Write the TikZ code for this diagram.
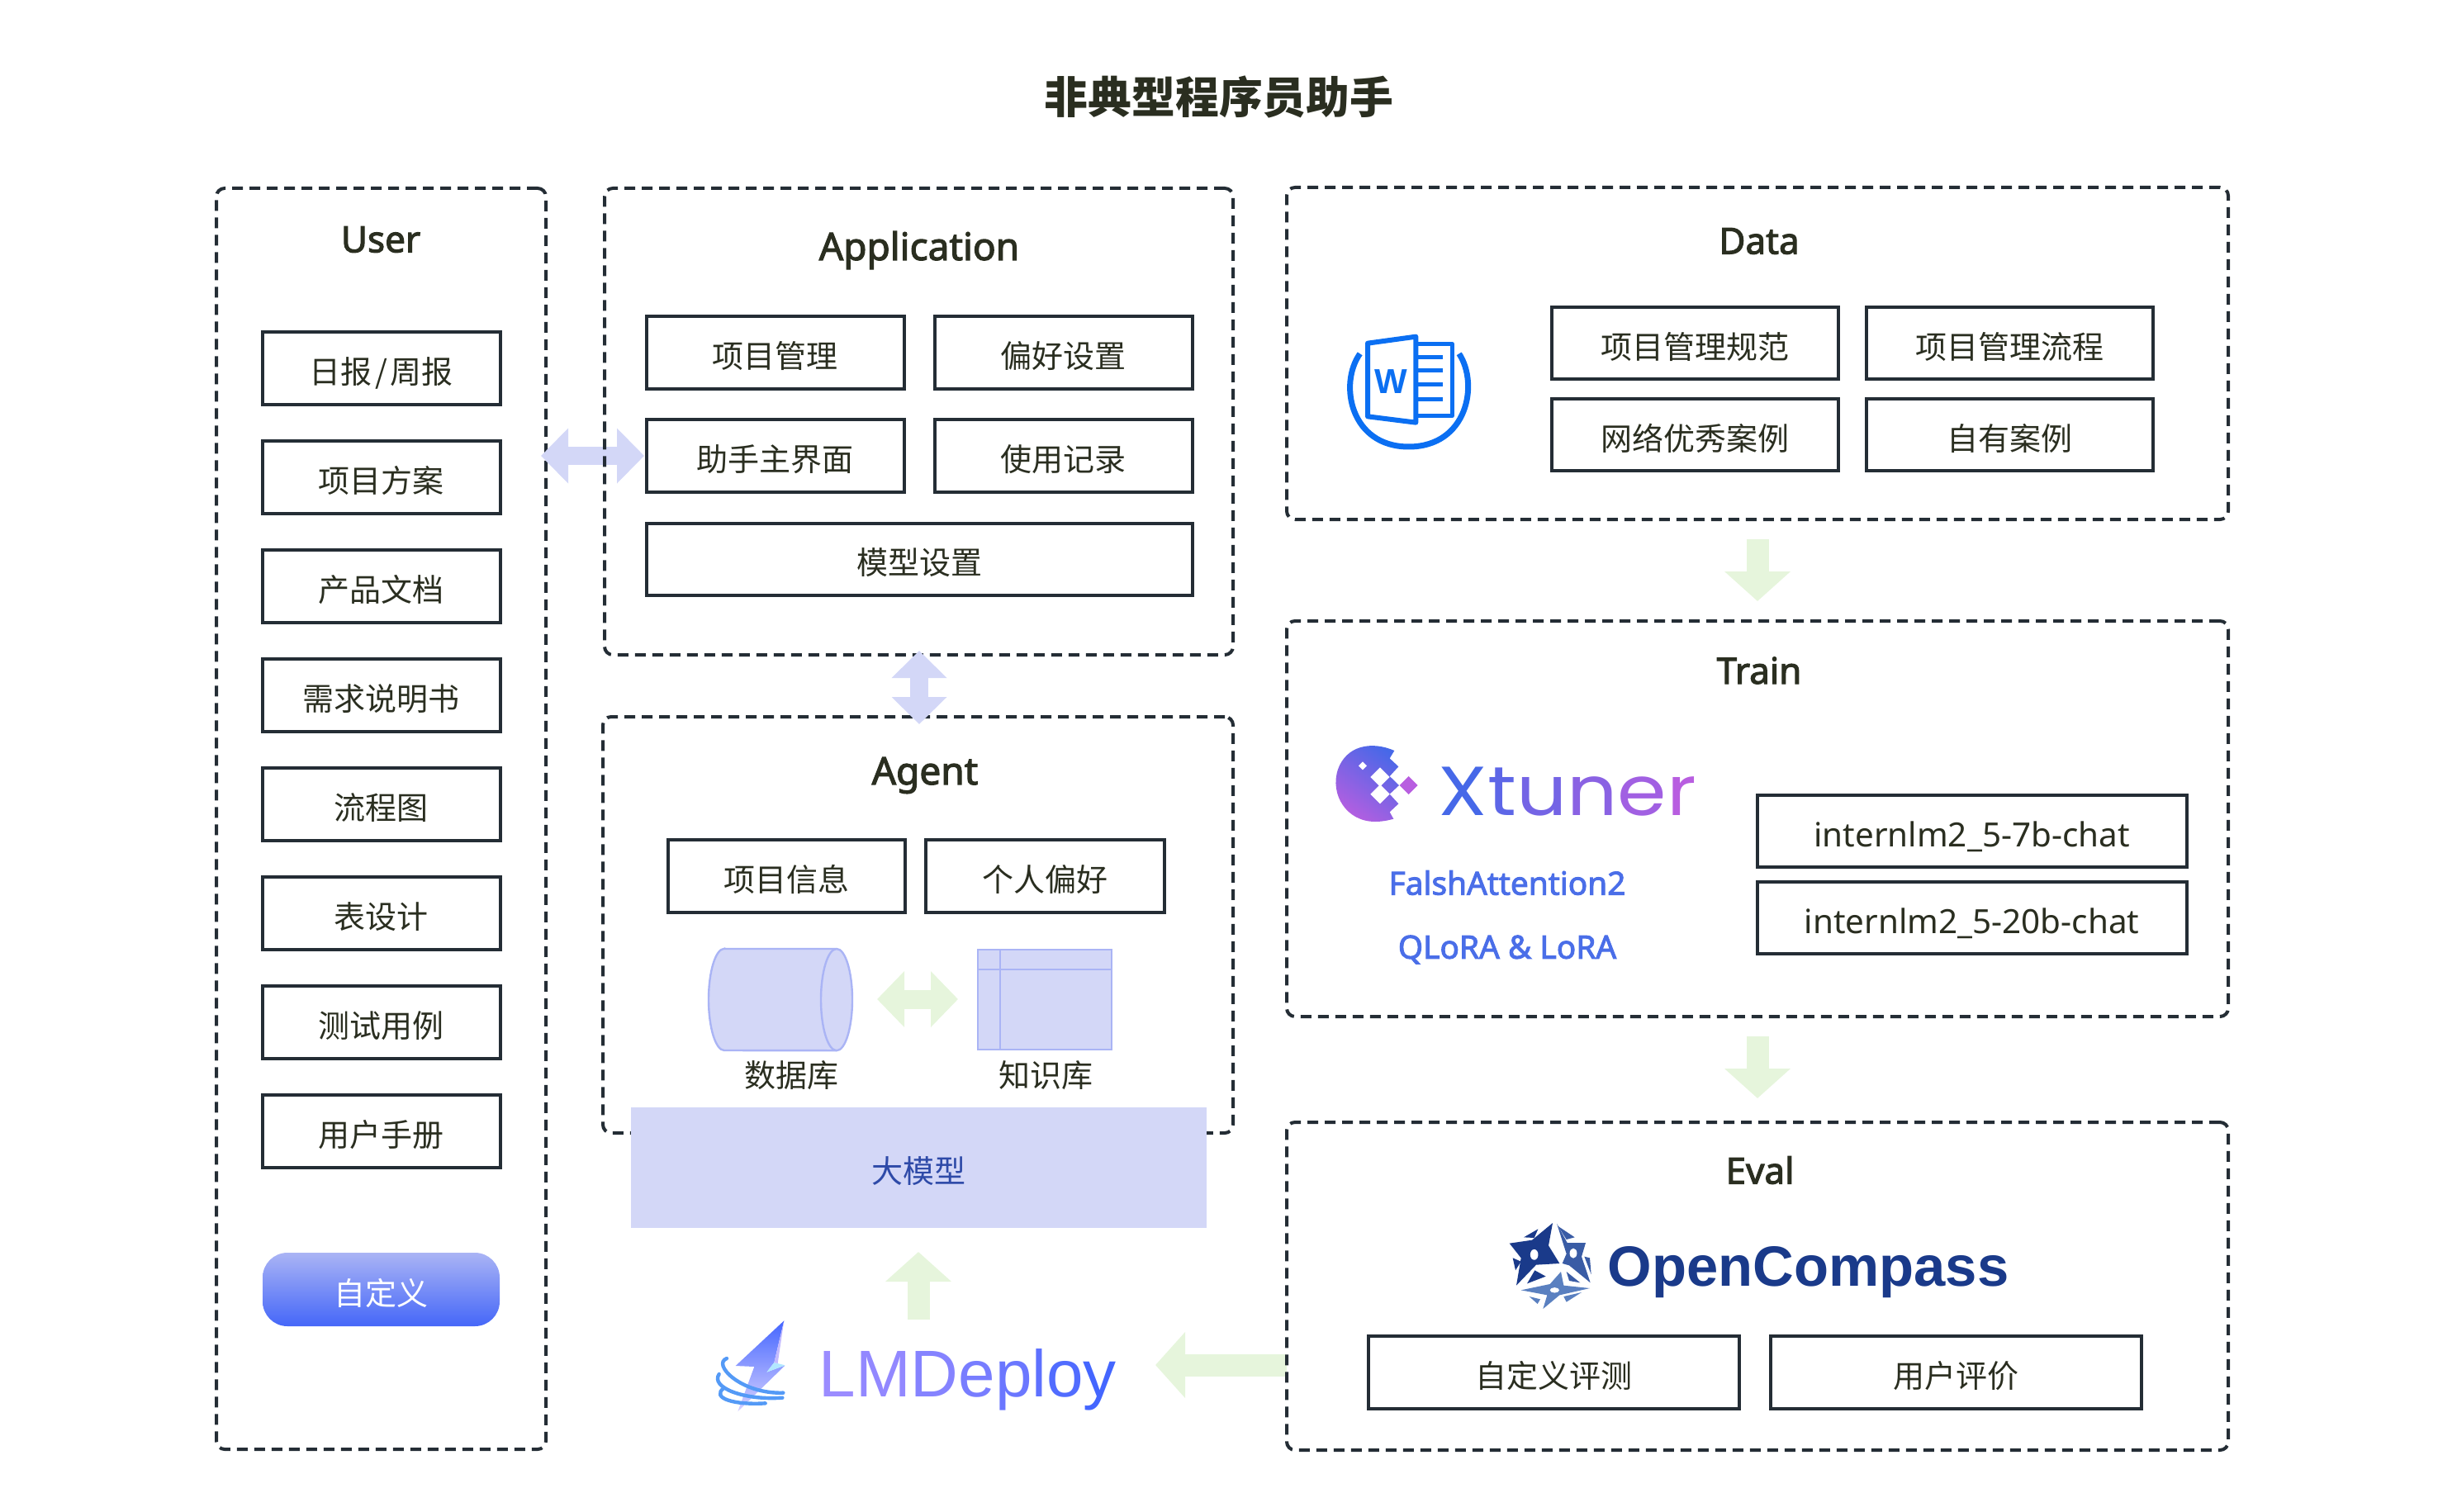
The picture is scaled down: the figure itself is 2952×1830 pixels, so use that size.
\documentclass[tikz,border=0pt]{standalone}
\usepackage{fontspec}
\setmainfont{Noto Sans}
\newfontfamily\cjk{Noto Sans CJK SC}
\newfontfamily\headfont{Noto Sans}[FakeBold=2.5]
\newfontfamily\logofont{Liberation Sans}
\newfontfamily\tunerfont{Poppins}
\usetikzlibrary{matrix,arrows.meta}
\definecolor{inkcol}{HTML}{2A2E20}
\definecolor{linecol}{HTML}{242D35}
\definecolor{lavcol}{HTML}{D3D7F7}
\definecolor{lavline}{HTML}{AAB4F5}
\definecolor{greencol}{HTML}{E6F5DC}
\definecolor{bluetext}{HTML}{4A6EE8}
\definecolor{modeltext}{HTML}{2E4AA8}
\definecolor{wordblue}{HTML}{0B6FF2}
\definecolor{tunerA}{HTML}{4668E8}
\definecolor{tunerB}{HTML}{B85EE0}
\definecolor{deployA}{HTML}{9B8CFF}
\definecolor{deployB}{HTML}{4466FF}
\definecolor{compA}{HTML}{1A3A8A}
\definecolor{compB}{HTML}{3A5CA5}
\definecolor{compC}{HTML}{5A80C0}
\tikzset{
	wh/.style 2 args={minimum width=#1*.25pt,minimum height=#2*.25pt},
	lowtext/.style={text height=10.9pt,text depth=1.5pt},
	groupbox/.style={draw=linecol,line width=1pt,dash pattern=on 3.25pt off 2pt,rounded corners=2.5pt,inner sep=0pt,outer sep=0pt},
	itembox/.style={draw=linecol,line width=1pt,inner sep=0pt,outer sep=0pt,lowtext,text=inkcol,font=\cjk\fontsize{9.5pt}{11pt}\selectfont},
	headtext/.style={text=inkcol,inner sep=0pt,font=\headfont\fontsize{11pt}{13pt}\selectfont},
	bigheadtext/.style={text=inkcol,inner sep=0pt,font=\headfont\fontsize{11.5pt}{13pt}\selectfont},
	plaintext/.style={text=inkcol,inner sep=0pt,font=\cjk\fontsize{9.5pt}{11pt}\selectfont},
	methodtext/.style={text=bluetext,inner sep=0pt,font=\headfont\fontsize{9.7pt}{11pt}\selectfont},
	greenarrow/.style={draw=greencol,line width=6.75pt,-{Triangle[length=9pt,width=19.5pt,fill=greencol]}},
	greenboth/.style={draw=greencol,line width=5.75pt,{Triangle[length=8.25pt,width=16.5pt,fill=greencol]}-{Triangle[length=8.25pt,width=16.5pt,fill=greencol]}},
	lavboth/.style={draw=lavcol,line width=5.5pt,{Triangle[length=8.25pt,width=16.25pt,fill=lavcol]}-{Triangle[length=8.25pt,width=16.25pt,fill=lavcol]}},
	dbshape/.style={draw=lavline,fill=lavcol,line width=.6pt},
	kbshape/.style={draw=lavline,fill=lavcol,line width=.6pt,inner sep=0pt,outer sep=0pt},
	pillbox/.style={rounded corners=7.5pt,top color=lavline,bottom color=deployB!70!tunerA,text=white,inner sep=0pt,lowtext,font=\cjk\fontsize{9.5pt}{11pt}\selectfont},
}
\begin{document}
\begin{tikzpicture}[x=.25pt,y=-.25pt]
	\path[use as bounding box] (0,0) rectangle (2952,1830);
	\node[inner sep=0pt,text=inkcol,font=\cjk\bfseries\fontsize{13.2pt}{15pt}\selectfont] (title) at (1476,117) {非典型程序员助手};

	% User
	\node[groupbox,wh={399}{1527}] (userBox) at (461.5,991.5) {};
	\node[headtext] (userHead) at (461,290) {User};
	\matrix (um) [matrix of nodes,row sep=10pt,nodes={itembox,wh={288}{88}}] at (461.5,908)
	{
		日报\kern1pt/\kern1pt周报 \\
		项目方案 \\
		产品文档 \\
		需求说明书 \\
		流程图 \\
		表设计 \\
		测试用例 \\
		用户手册 \\};
	\node[pillbox,wh={287}{89}] (pill) at (461.5,1561.5) {自定义};

	\coordinate (uaL) at (655,552);
	\coordinate (uaR) at (780,552);
	\path (uaL) edge[lavboth] (uaR);

	% Application
	\node[groupbox,wh={761}{565}] (appBox) at (1112.5,510.5) {};
	\node[bigheadtext] (appHead) at (1113,303) {Application};
	\matrix (am) [matrix of nodes,row sep=8.25pt,column sep=8.25pt,nodes={itembox,wh={312}{88}}] at (1113,489.5)
	{
		项目管理 & 偏好设置 \\
		助手主界面 & 使用记录 \\};
	\node[itembox,wh={661}{87}] (modelSet) at (1113,677) {模型设置};

	% Agent
	\node[groupbox,wh={763}{504}] (agentBox) at (1111.5,1120) {};
	\node[bigheadtext] (agentHead) at (1120,939) {Agent};
	\node[itembox,wh={287}{88}] (projInfo) at (952,1061) {项目信息};
	\node[itembox,wh={289}{88}] (prefInfo) at (1265,1061) {个人偏好};
	\draw[dbshape] (877,1149) -- (1013,1149) arc[start angle=90,end angle=-90,x radius=4.75pt,y radius=15.4pt] -- (877,1272) arc[start angle=270,end angle=90,x radius=4.75pt,y radius=15.4pt] -- cycle;
	\draw[dbshape] (1013,1149) arc[start angle=90,end angle=270,x radius=4.75pt,y radius=15.4pt];
	\node[kbshape,wh={162}{121}] (kb) at (1265,1210.5) {};
	\draw[lavline,line width=.6pt] (1211,1150) -- (1211,1271) (1184,1174) -- (1346,1174);
	\node[plaintext] (dbText) at (958,1302) {数据库};
	\node[plaintext] (kbText) at (1266,1302) {知识库};
	\coordinate (dkL) at (1062,1210);
	\coordinate (dkR) at (1160,1210);
	\path (dkL) edge[greenboth] (dkR);
	\node[fill=lavcol,inner sep=0pt,outer sep=0pt,wh={697}{146},lowtext,text=modeltext,font=\cjk\fontsize{9.5pt}{11pt}\selectfont] (bigModel) at (1112.5,1414) {大模型};

	\coordinate (aaT) at (1113,788);
	\coordinate (aaB) at (1113,877);
	\path (aaT) edge[lavboth] (aaB);

	% LMDeploy
	\begin{scope}[shift={(860,1590)},x=.08333pt,y=-.08333pt]
		\shade[top color=deployB,bottom color=deployA!40!white] (268,28) -- (92,192) -- (160,195) -- (100,358) -- (272,190) -- (205,215) -- (232,180) -- cycle;
		\fill[blue!30!cyan!30!white] (205,215) -- (232,180) -- (272,190) -- cycle;
		\fill[deployA!60!white] (268,28) -- (232,180) -- (245,183) -- cycle;
		\draw[wordblue!70!white,line width=1.1pt,line cap=round] (60,165) .. controls (5,185) and (110,295) .. (265,290);
		\draw[wordblue!70!white,line width=1.1pt,line cap=round] (32,222) .. controls (0,270) and (120,318) .. (262,308);
		\draw[wordblue!70!white,line width=1.1pt,line cap=round] (50,272) .. controls (0,310) and (90,335) .. (200,328);
	\end{scope}
	\node[anchor=base west,inner sep=0pt,font=\logofont\fontsize{20pt}{22pt}\selectfont] (deployText) at (991,1691) {{\color{deployA}L}{\color{deployA!90!deployB}M}{\color{deployA!75!deployB}D}{\color{deployA!60!deployB}e}{\color{deployA!45!deployB}p}{\color{deployA!30!deployB}l}{\color{deployA!15!deployB}o}{\color{deployB}y}};

	\coordinate (ldB) at (1112,1598);
	\coordinate (ldT) at (1112,1516);
	\path (ldB) edge[greenarrow] (ldT);
	\coordinate (evR) at (1558,1653);
	\coordinate (evL) at (1399,1653);
	\path (evR) edge[greenarrow] (evL);

	% Data
	\node[groupbox,wh={1140}{402}] (dataBox) at (2128,428) {};
	\node[headtext] (dataHead) at (2130,292) {Data};
	\begin{scope}[shift={(1625,395)},x=.08333pt,y=-.08333pt]
		\draw[wordblue,line width=1.75pt] (65,100) .. controls (-13,210) and (30,438) .. (242,438) .. controls (455,438) and (498,210) .. (425,100);
		\draw[wordblue,line width=1.4pt,line join=round] (268,65) -- (400,65) -- (400,325) -- (268,325);
		\draw[wordblue,line width=1.4pt] (268,112) -- (365,112) (268,160) -- (365,160) (268,212) -- (365,212) (268,265) -- (365,265);
		\draw[wordblue,line width=1.5pt,line join=round,fill=white] (93,62) -- (268,38) -- (268,350) -- (93,328) -- cycle;
	\end{scope}
	\node[inner sep=0pt,text=wordblue,font=\logofont\bfseries\fontsize{10.5pt}{12pt}\selectfont] (wordW) at (1684,462) {W};
	\matrix (dm) [matrix of nodes,row sep=5pt,column sep=7.5pt,nodes={itembox,wh={347}{87}}] at (2242.5,471)
	{
		项目管理规范 & 项目管理流程 \\
		网络优秀案例 & 自有案例 \\};

	\coordinate (dtT) at (2128,653);
	\coordinate (dtB) at (2128,728);
	\path (dtT) edge[greenarrow] (dtB);

	% Train
	\node[groupbox,wh={1140}{479}] (trainBox) at (2128,991.5) {};
	\node[headtext] (trainHead) at (2130,812) {Train};
	\begin{scope}[shift={(1610,895)},x=.08333pt,y=-.08333pt]
		\shade[left color=tunerA,right color=tunerB,shading angle=-35] (235,42) .. controls (150,5) and (60,25) .. (30,110) .. controls (0,200) and (60,300) .. (165,300) .. controls (190,300) and (215,295) .. (232,290) -- (218,265) -- (250,235) -- (218,200) -- (252,168) -- (218,135) -- (250,100) -- (218,70) -- cycle;
		\fill[tunerB] (287,135) -- (320,168) -- (287,201) -- (254,168) -- cycle;
		\fill[white] (183,103) -- (218,138) -- (183,173) -- (148,138) -- cycle;
		\fill[white] (183,165) -- (218,200) -- (183,235) -- (148,200) -- cycle;
		\fill[white] (120,82) -- (135,97) -- (120,112) -- (105,97) -- cycle;
	\end{scope}
	\node[anchor=base west,inner sep=0pt,xscale=1.14,font=\tunerfont\fontsize{21pt}{24pt}\selectfont] (tunerText) at (1741,987) {{\color{tunerA}X}{\color{tunerA!80!tunerB}t}{\color{tunerA!60!tunerB}u}{\color{tunerA!40!tunerB}n}{\color{tunerA!20!tunerB}e}{\color{tunerB}r}};
	\node[methodtext] (flashText) at (1825,1069) {FalshAttention2};
	\node[methodtext] (loraText) at (1825,1150) {QLoRA \& LoRA};
	\node[itembox,wh={520}{87},font=\fontsize{10.1pt}{12pt}\selectfont] (chat7b) at (2387.5,1006.5) {internlm2\_5-7b-chat};
	\node[itembox,wh={520}{87},font=\fontsize{10.1pt}{12pt}\selectfont] (chat20b) at (2387.5,1111.5) {internlm2\_5-20b-chat};

	\coordinate (teT) at (2128,1255);
	\coordinate (teB) at (2128,1330);
	\path (teT) edge[greenarrow] (teB);

	% Eval
	\node[groupbox,wh={1140}{397}] (evalBox) at (2128,1557.5) {};
	\node[headtext] (evalHead) at (2131,1417) {Eval};
	\begin{scope}[shift={(1825,1475)},x=.08333pt,y=-.08333pt]
		\fill[compA] (165,18) -- (150,100) -- (190,165) -- (105,170) -- (33,245) -- (50,145) -- (8,92) -- (90,80) -- cycle;
		\fill[compA] (60,70) -- (112,40) -- (98,72) -- cycle (20,145) -- (50,158) -- (30,190) -- cycle (100,190) -- (140,212) -- (72,238) -- cycle;
		\fill[white] (98,133) ellipse[x radius=1.2pt,y radius=1.6pt];
		\fill[compB] (180,20) -- (218,90) -- (285,90) -- (270,140) -- (302,235) -- (225,172) -- (200,165) -- (215,130) -- cycle;
		\fill[compB] (185,30) -- (245,70) -- (215,78) -- cycle (280,140) -- (300,145) -- (305,205) -- cycle (215,195) -- (265,235) -- (225,228) -- cycle;
		\fill[white] (240,128) ellipse[x radius=1.1pt,y radius=1.5pt];
		\fill[compC] (195,195) -- (205,245) -- (300,255) -- (190,280) -- (130,330) -- (145,280) -- (50,262) -- (155,240) -- cycle;
		\fill[compC] (80,285) -- (120,295) -- (110,312) -- cycle (205,285) -- (270,270) -- (215,305) -- cycle;
		\fill[white] (172,262) ellipse[x radius=1.4pt,y radius=.8pt];
	\end{scope}
	\node[anchor=base west,inner sep=0pt,text=compA,font=\logofont\bfseries\fontsize{17.2pt}{20pt}\selectfont] (compText) at (1946,1557) {OpenCompass};
	\node[itembox,wh={449}{88}] (customEval) at (1881,1662) {自定义评测};
	\node[itembox,wh={449}{88}] (userEval) at (2368,1662) {用户评价};
\end{tikzpicture}
\end{document}
